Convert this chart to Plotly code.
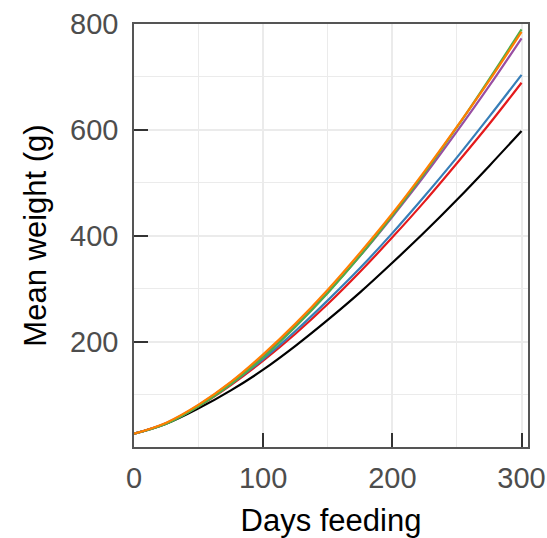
import plotly.graph_objects as go

days = [0, 25, 50, 75, 100, 125, 150, 175, 200, 225, 250, 275, 300]

black_w = [26, 45, 74, 108, 147, 192, 241, 293, 349, 407, 468, 532, 598]
red_w = [26, 46, 78, 118, 164, 215, 271, 332, 397, 465, 537, 611, 689]
blue_w = [26, 46, 79, 120, 167, 220, 278, 339, 405, 475, 548, 625, 704]
purple_w = [26, 46, 80, 123, 173, 230, 293, 362, 436, 514, 597, 683, 773]
green_w = [26, 45, 78, 120, 170, 228, 292, 362, 438, 519, 605, 696, 790]
orange_w = [26, 47, 81, 124, 176, 234, 298, 368, 442, 522, 606, 693, 785]

series = [
    ("black", black_w, "#000000"),
    ("red", red_w, "#E41A1C"),
    ("blue", blue_w, "#377EB8"),
    ("purple", purple_w, "#984EA3"),
    ("green", green_w, "#4DAF4A"),
    ("orange", orange_w, "#FF7F00"),
]

x_ticks = [0, 100, 200, 300]
y_ticks = [200, 400, 600, 800]

fig = go.Figure()
for name, vals, col in series:
    fig.add_trace(go.Scatter(x=days, y=vals, mode="lines", name=name,
                             line=dict(color=col, width=2.2, shape="spline"),
                             showlegend=False))

axis_common = dict(
    showline=True, linecolor="#555555", linewidth=1.5, mirror=True,
    ticks="inside", ticklen=14, tickwidth=1.5, tickcolor="#333333",
    showgrid=True, gridcolor="#EBEBEB", gridwidth=1.5,
    zeroline=False, automargin=False,
    tickfont=dict(family="Liberation Sans, Arial", size=29, color="#4D4D4D"),
)

fig.update_xaxes(
    **axis_common,
    range=[0, 305], tickvals=x_ticks,
    minor=dict(dtick=50, tick0=0, showgrid=True, gridcolor="#EBEBEB", gridwidth=1.2, ticks=""),
    ticklabelstandoff=4,
    title=dict(text="Days feeding", font=dict(family="Liberation Sans, Arial", size=31, color="#000000"), standoff=20),
)
fig.update_yaxes(
    **axis_common,
    range=[1, 800], tickvals=y_ticks,
    minor=dict(dtick=100, tick0=0, showgrid=True, gridcolor="#EBEBEB", gridwidth=1.2, ticks=""),
    ticklabelstandoff=8,
    title=dict(text="Mean weight (g)", font=dict(family="Liberation Sans, Arial", size=31, color="#000000"), standoff=14),
)

fig.update_layout(
    width=547, height=538,
    margin=dict(l=134, r=19, t=24, b=91),
    paper_bgcolor="white", plot_bgcolor="white",
)

fig.write_html("out.html")
